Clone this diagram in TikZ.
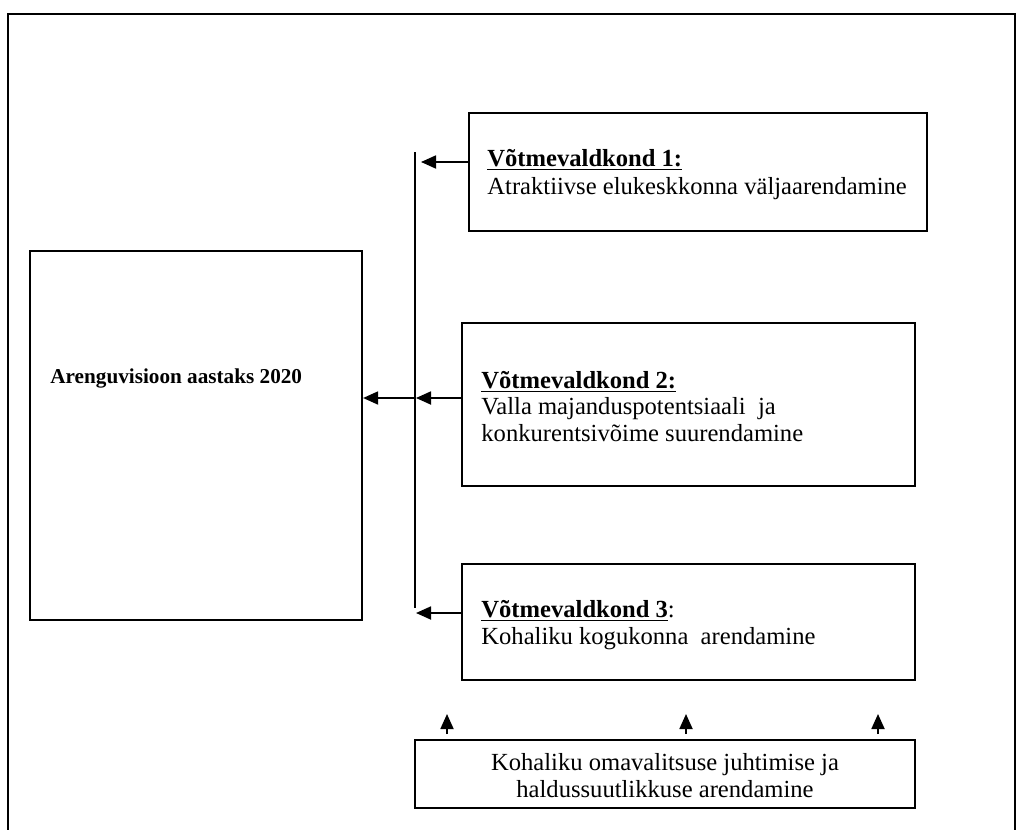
\documentclass[tikz,border=0pt]{standalone}
\usepackage{fontspec}
\setmainfont{Liberation Serif}
\usetikzlibrary{arrows.meta}
\begin{document}
\begin{tikzpicture}[x=0.5pt,y=-0.5pt,
  box/.style={draw,line width=1.1pt,rectangle,inner sep=0pt},
  txt/.style={inner sep=0pt,font=\fontsize{12.3}{14}\selectfont},
  arr/.style={line width=0.9pt,-{Triangle[length=7.5pt,width=6.5pt]}},
  frame/.style={line width=1.4pt}]
\useasboundingbox (0,0) rectangle (1024,830);
\draw[frame] (8,830) -- (8,14) -- (1015,14) -- (1015,830);
% boxes
\node[box,minimum width=166pt,minimum height=184.5pt] (A) at (196,435.5) {};
\node[box,minimum width=229pt,minimum height=59pt] (V1) at (698,172) {};
\node[box,minimum width=226.5pt,minimum height=81.5pt] (V2) at (688.5,404.5) {};
\node[box,minimum width=226.5pt,minimum height=58pt] (V3) at (688.5,622) {};
\node[box,minimum width=250pt,minimum height=34pt] (B) at (665,774) {};
% texts
\node[txt,anchor=base west,font=\fontsize{10.6}{12}\selectfont\bfseries] (tA) at (50,383) {Arenguvisioon aastaks 2020};
\node[txt,anchor=base west] (t1a) at (487,166) {\underline{\textbf{Võtmevaldkond 1:}}};
\node[txt,anchor=base west] (t1b) at (487,194) {Atraktiivse elukeskkonna väljaarendamine};
\node[txt,anchor=base west] (t2a) at (481,388) {\underline{\textbf{Võtmevaldkond 2:}}};
\node[txt,anchor=base west] (t2b) at (481,414) {Valla majanduspotentsiaali\ \ ja};
\node[txt,anchor=base west] (t2c) at (481,441) {konkurentsivõime suurendamine};
\node[txt,anchor=base west] (t3a) at (481,617) {\underline{\textbf{Võtmevaldkond 3}}:};
\node[txt,anchor=base west] (t3b) at (481,644) {Kohaliku kogukonna\ \ arendamine};
\node[txt,anchor=base] (tBa) at (665,770) {Kohaliku omavalitsuse juhtimise ja};
\node[txt,anchor=base] (tBb) at (665,797) {haldussuutlikkuse arendamine};
% bus
\coordinate (bt) at (415,152);
\coordinate (bb) at (415,608);
\draw[line width=1pt] (bt) -- (bb);
\coordinate (p1) at (421,162);
\coordinate (p2) at (416,398);
\coordinate (p3) at (416,613);
\draw[arr] (V1.west |- p1) -- (p1);
\draw[arr] (V2.west |- p2) -- (p2);
\draw[arr] (p2) -- (A.east |- p2);
\draw[arr] (V3.west |- p3) -- (p3);
% up arrows
\coordinate (u1s) at (447,734); \coordinate (u1e) at (447,714);
\coordinate (u2s) at (686,734); \coordinate (u2e) at (686,714);
\coordinate (u3s) at (878,734); \coordinate (u3e) at (878,714);
\draw[arr] (u1s) -- (u1e);
\draw[arr] (u2s) -- (u2e);
\draw[arr] (u3s) -- (u3e);
\end{tikzpicture}
\end{document}
